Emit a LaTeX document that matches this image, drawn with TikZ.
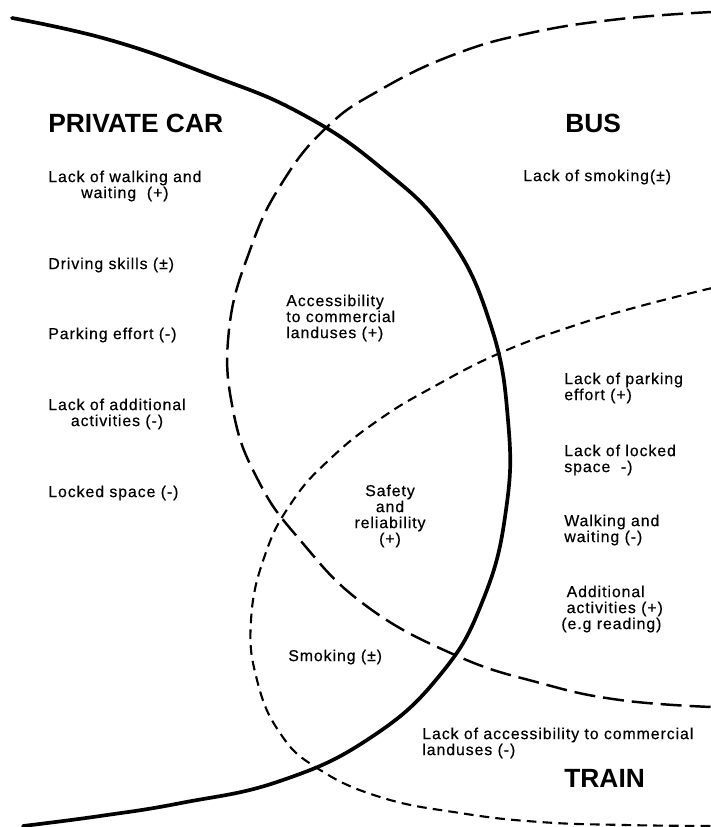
\documentclass[tikz,border=0pt]{standalone}
\usepackage{fontspec}
\setmainfont{Liberation Sans}[LetterSpace=6, FakeBold=0.5]
\newfontfamily\headfont{Liberation Sans}
\usetikzlibrary{positioning}

\begin{document}
\begin{tikzpicture}[x=0.02cm,y=-0.02cm,font=\fontsize{9}{9.1}\selectfont]
    \tikzstyle{item}=[inner sep=0pt, align=left, anchor=west]
    \tikzstyle{mode}=[inner sep=0pt, anchor=west, font=\fontsize{15}{18}\headfont\bfseries]
    \tikzstyle{car}=[line width=2.1pt, line cap=round]
    \tikzstyle{bus}=[line width=1.4pt, dash pattern=on 12pt off 4.5pt]
    \tikzstyle{train}=[line width=1.2pt, dash pattern=on 5.5pt off 3.5pt]

    \useasboundingbox (0,0) rectangle (710,827);

    % the three modes
    \draw[car] plot[smooth, tension=0.75] coordinates {(12,18) (110,40) (210,75) (300,113) (380,167)
      (447,234) (490,323) (508,420) (506,510) (483,600) (440,675) (370,738) (280,781) (181,803)
      (100,816) (23,826)};
    \draw[bus] plot[smooth, tension=0.75] coordinates {(712,12) (620,19) (530,33) (453,55) (380,90)
      (327,127) (282,183) (250,250) (229,330) (233,410) (258,480) (300,540) (365,605) (455,655)
      (540,683) (620,700) (712,707)};
    \draw[train] plot[smooth, tension=0.75] coordinates {(712,288) (637,307) (570,327) (500,353)
      (435,386) (380,419) (330,459) (292,502) (265,555) (251,620) (257,680) (280,733) (317,768)
      (380,797) (460,813) (540,822) (625,825) (712,826)};

    \node[mode]    (pc)    at (48,123)  {PRIVATE CAR};
    \node[mode]    (bus)   at (565,123) {BUS};
    \node[mode]    (train) at (564,778) {TRAIN};

    % private car only
    \node[item, align=center] (walk)   at (48,186) {Lack of walking and\\waiting\ \ (+)};
    \node[item]               (drive)  at (48,265) {Driving skills (±)};
    \node[item]               (park)   at (48,335) {Parking effort (-)};
    \node[item, align=center] (addl)   at (48,414) {Lack of additional\\activities (-)};
    \node[item]               (locked) at (48,493) {Locked space (-)};

    % overlaps
    \node[item]               (access) at (286,318) {Accessibility\\to commercial\\landuses (+)};
    \node[inner sep=0pt, align=center] (safety) at (390,516) {Safety\\and\\reliability\\(+)};
    \node[item]               (smoke)  at (288,657) {Smoking (±)};

    % bus and train
    \node[item]               (nosmoke) at (523,177) {Lack of smoking(±)};
    \node[item]               (lpark)   at (564,388) {Lack of parking\\effort (+)};
    \node[item]               (llock)   at (564,460) {Lack of locked\\space\ \ -)};
    \node[item]               (walkb)   at (564,530) {Walking and\\waiting (-)};
    \node[item]               (addb)    at (561,609) {\ Additional\\\ activities (+)\\(e.g reading)};
    \node[item]               (laccess) at (422,743) {Lack of accessibility to commercial\\landuses (-)};
\end{tikzpicture}
\end{document}
